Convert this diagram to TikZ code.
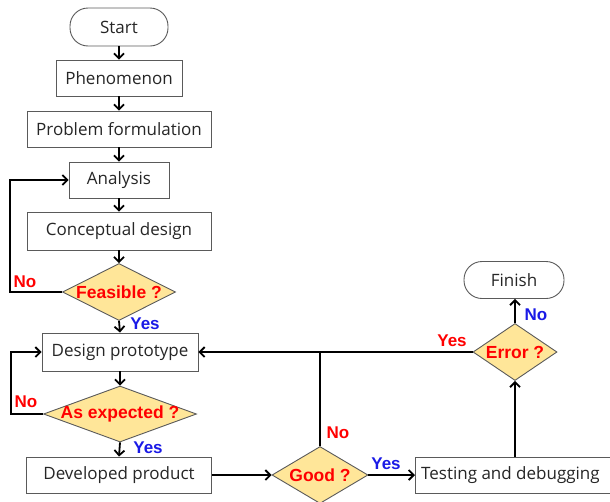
\documentclass[tikz,border=0pt]{standalone}
\usepackage{fontspec}
\setmainfont{Liberation Sans}
\newfontfamily\boxfont{Open Sans}
\usetikzlibrary{arrows.meta,shapes.geometric}
\definecolor{boxedge}{HTML}{5A5A5A}
\definecolor{diafill}{HTML}{FFE699}
\definecolor{lblred}{HTML}{FF0000}
\definecolor{lblblue}{HTML}{1A1AE6}
\tikzset{
  box/.style={draw=boxedge, line width=0.9pt, fill=white, inner sep=0pt,
    font=\boxfont\fontsize{17}{19}\selectfont, text=black!85},
  term/.style={box, rounded corners=18pt},
  dia/.style={diamond, draw=boxedge, line width=0.9pt, fill=diafill, inner sep=0pt},
  dtext/.style={font=\bfseries\fontsize{17.5}{19}\selectfont, text=lblred},
  ylab/.style={font=\bfseries\fontsize{17}{19}\selectfont, text=lblblue, inner sep=0pt},
  nlab/.style={font=\bfseries\fontsize{17}{19}\selectfont, text=lblred, inner sep=0pt},
  arr/.style={line width=1.8pt, -{Straight Barb[length=5pt,width=10pt,line width=1.8pt]}},
  ln/.style={line width=1.8pt}
}
\begin{document}
\begin{tikzpicture}[x=1pt,y=-1pt]
\useasboundingbox (0,0) rectangle (610,501);
% nodes
\node[term, minimum width=98, minimum height=38] (start) at (119,27) {Start};
\node[box, minimum width=126, minimum height=36] (phen) at (119,78) {Phenomenon};
\node[box, minimum width=184, minimum height=36] (prob) at (119,129) {Problem formulation};
\node[box, minimum width=100, minimum height=36] (ana) at (119,180) {Analysis};
\node[box, minimum width=184, minimum height=38] (conc) at (119,231) {Conceptual design};
\node[dia, minimum width=113, minimum height=57] (feas) at (119,292) {};
\node[dtext] at (feas.center) {Feasible ?};
\node[box, minimum width=156, minimum height=38] (des) at (120,352) {Design prototype};
\node[dia, minimum width=153, minimum height=56] (asex) at (120,414) {};
\node[dtext] at (asex.center) {As expected ?};
\node[box, minimum width=185, minimum height=36] (dev) at (119,475) {Developed product};
\node[dia, minimum width=96, minimum height=57] (good) at (320,475) {};
\node[dtext] at (good.center) {Good ?};
\node[box, minimum width=198, minimum height=36, anchor=west] (test) at (415,475) {\hspace*{-8pt}Testing and debugging};
\node[dia, minimum width=84, minimum height=57] (err) at (515,352) {};
\node[dtext] at (err.center) {Error ?};
\node[term, minimum width=100, minimum height=37] (fin) at (514,280) {Finish};
% coordinates
\coordinate (l1) at (10,292);
\coordinate (l2) at (11,414);
\coordinate (j) at (320,352);
% connectors
\draw[arr] (start.south) -- (phen.north);
\draw[arr] (phen.south) -- (prob.north);
\draw[arr] (prob.south) -- (ana.north);
\draw[arr] (ana.south) -- (conc.north);
\draw[arr] (conc.south) -- (feas.north);
\draw[arr] (feas.south) -- (des.north);
\draw[arr] (feas.west) -- (l1) |- (ana.west);
\draw[arr] (des.south) -- (asex.north);
\draw[arr] (asex.south) -- (dev.north);
\draw[arr] (asex.west) -- (l2) |- (des.west);
\draw[arr] (dev.east) -- (good.west);
\draw[arr] (good.east) -- (test.west);
\draw[ln] (good.north) -- (j);
\draw[arr] (test.north -| err.south) -- (err.south);
\draw[arr] (err.north) -- (err.north |- fin.south);
\draw[arr] (err.west) -- (des.east);
% labels
\node[nlab] at (25,282) {No};
\node[ylab] at (145,324) {Yes};
\node[nlab] at (26,402) {No};
\node[ylab] at (148,448) {Yes};
\node[nlab] at (338,433) {No};
\node[ylab] at (386,464) {Yes};
\node[nlab] at (452,341) {Yes};
\node[ylab] at (536,315) {No};
\end{tikzpicture}
\end{document}
